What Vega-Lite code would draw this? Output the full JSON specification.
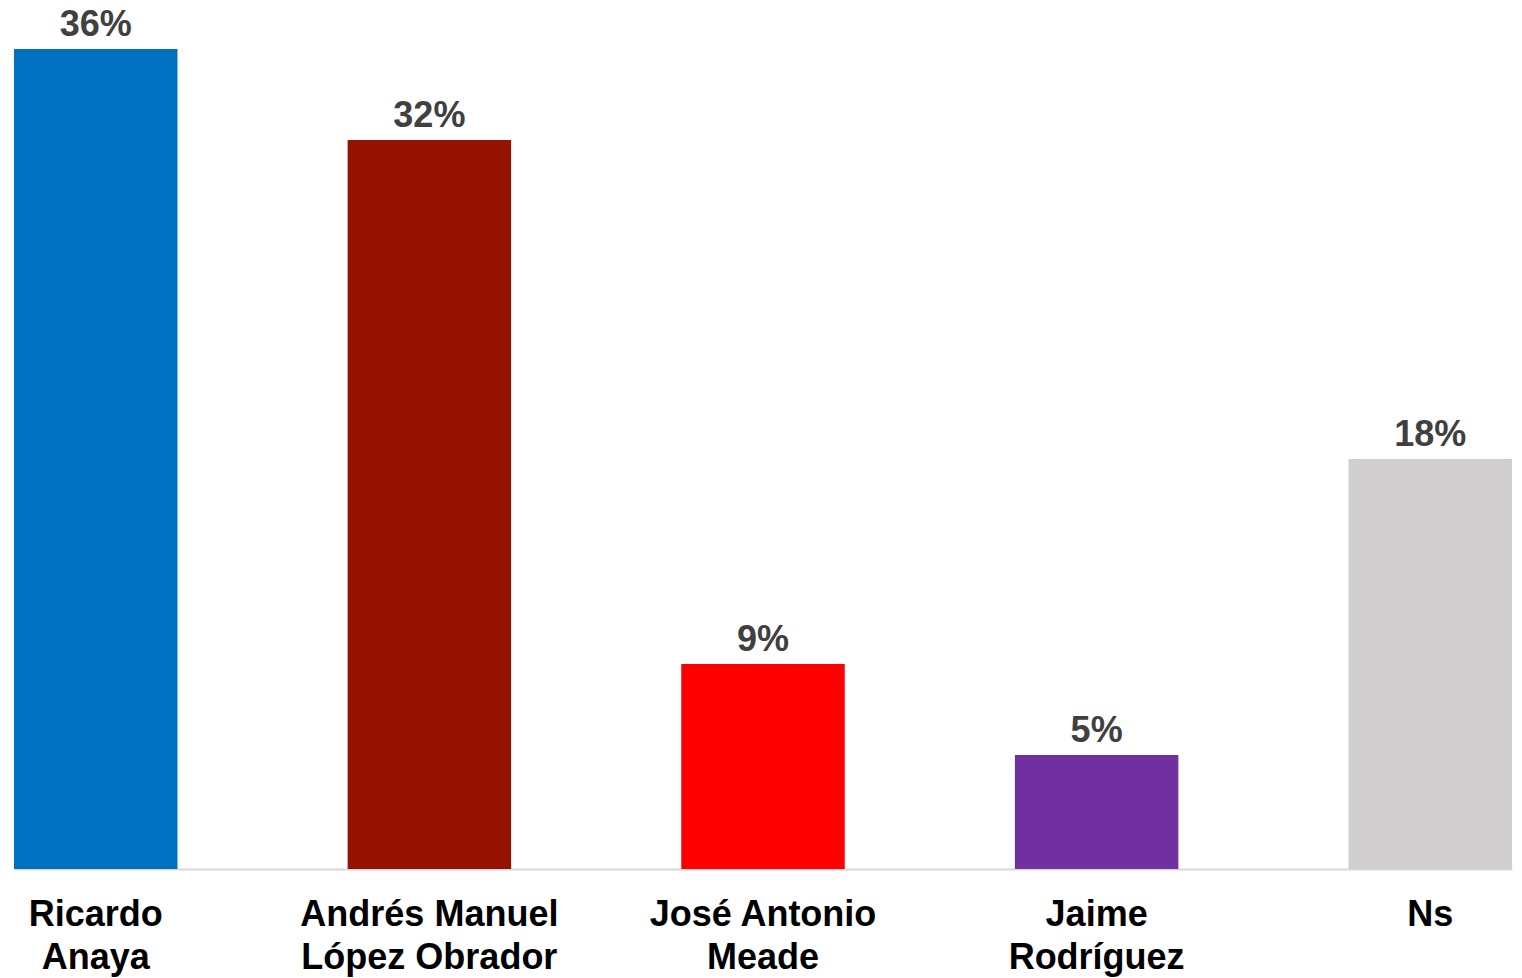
{
  "$schema": "https://vega.github.io/schema/vega-lite/v6.json",
  "width": 1498,
  "height": 820,
  "autosize": {"type": "none"},
  "padding": {"left": 14, "top": 49, "right": 10, "bottom": 109},
  "background": "white",
  "config": {"view": {"stroke": null}, "font": "Liberation Sans"},
  "data": {
    "values": [
      {"candidato": "Ricardo|Anaya", "pct": 0.36},
      {"candidato": "Andrés Manuel|López Obrador", "pct": 0.32},
      {"candidato": "José Antonio|Meade", "pct": 0.09},
      {"candidato": "Jaime|Rodríguez", "pct": 0.05},
      {"candidato": "Ns", "pct": 0.18}
    ]
  },
  "encoding": {
    "x": {
      "field": "candidato",
      "type": "nominal",
      "sort": null,
      "scale": {"paddingInner": 0.51, "paddingOuter": 0},
      "axis": {
        "title": null,
        "labelAngle": 0,
        "labelExpr": "split(datum.value, '|')",
        "labelFont": "Liberation Sans",
        "labelFontSize": 36,
        "labelFontWeight": "bold",
        "labelColor": "#000000",
        "labelLineHeight": 43,
        "labelBaseline": "top",
        "labelPadding": 28,
        "labelLimit": 0,
        "ticks": false,
        "domainColor": "#D9D9D9",
        "domainWidth": 2,
        "labelOverlap": false,
        "labelBound": false,
        "labelFlush": false
      }
    },
    "y": {
      "field": "pct",
      "type": "quantitative",
      "scale": {"domain": [0, 0.36]},
      "axis": null
    }
  },
  "layer": [
    {
      "mark": {"type": "bar"},
      "encoding": {
        "color": {
          "field": "candidato",
          "type": "nominal",
          "scale": {
            "domain": ["Ricardo|Anaya", "Andrés Manuel|López Obrador", "José Antonio|Meade", "Jaime|Rodríguez", "Ns"],
            "range": ["#0070C0", "#961200", "#FF0000", "#7030A0", "#D0CECE"]
          },
          "legend": null
        }
      }
    },
    {
      "mark": {
        "type": "text",
        "baseline": "alphabetic",
        "dy": -13,
        "fontSize": 36,
        "fontWeight": "bold",
        "color": "#404040",
        "font": "Liberation Sans"
      },
      "encoding": {
        "text": {"field": "pct", "type": "quantitative", "format": ".0%"}
      }
    }
  ]
}
